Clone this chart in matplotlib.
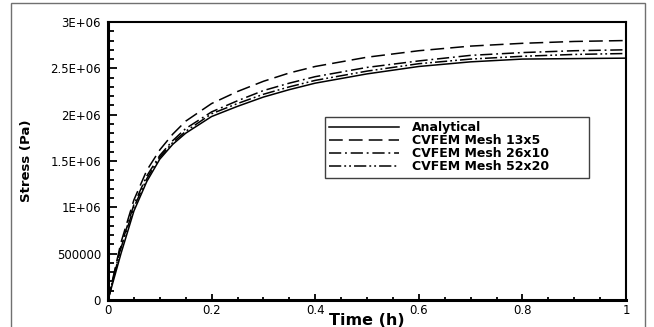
import matplotlib
matplotlib.use('Agg')
import matplotlib.pyplot as plt
from matplotlib.patches import Rectangle
from matplotlib.ticker import MultipleLocator, FuncFormatter

plt.rcParams['font.family'] = ['DejaVu Sans']

# time (h)
t = [0, 0.025, 0.05, 0.075, 0.1, 0.125, 0.15, 0.2, 0.25, 0.3, 0.35, 0.4,
     0.5, 0.6, 0.7, 0.8, 0.9, 1.0]

# stress (Pa)
analytical = [0, 0.50e6, 0.96e6, 1.28e6, 1.52e6, 1.68e6, 1.80e6, 1.98e6, 2.09e6,
              2.19e6, 2.27e6, 2.34e6, 2.44e6, 2.52e6, 2.57e6, 2.60e6, 2.605e6, 2.61e6]
mesh_13x5 = [0, 0.62e6, 1.08e6, 1.40e6, 1.62e6, 1.79e6, 1.93e6, 2.12e6, 2.25e6,
             2.36e6, 2.45e6, 2.52e6, 2.62e6, 2.69e6, 2.74e6, 2.77e6, 2.79e6, 2.80e6]
mesh_26x10 = [0, 0.58e6, 1.03e6, 1.34e6, 1.56e6, 1.72e6, 1.85e6, 2.03e6, 2.15e6,
              2.26e6, 2.34e6, 2.41e6, 2.51e6, 2.58e6, 2.64e6, 2.67e6, 2.69e6, 2.70e6]
mesh_52x20 = [0, 0.56e6, 1.00e6, 1.31e6, 1.54e6, 1.70e6, 1.82e6, 2.01e6, 2.12e6,
              2.22e6, 2.30e6, 2.37e6, 2.47e6, 2.55e6, 2.60e6, 2.63e6, 2.65e6, 2.66e6]

labels = ['Analytical', 'CVFEM Mesh 13x5', 'CVFEM Mesh 26x10', 'CVFEM Mesh 52x20']

fig = plt.figure(figsize=(6.54, 3.27), dpi=100)
ax = fig.add_axes([108/654, 1 - 300/327, 518/654, 278/327])

# grey outer frame
fig.patches.append(Rectangle((11/654, -0.05), 634/654, 1.05 - 3/327,
                             transform=fig.transFigure, fill=False,
                             edgecolor='#707070', lw=1.0))

lw = 1.1
ax.plot(t, analytical, color='black', lw=lw, ls='-', label=labels[0])
ax.plot(t, mesh_13x5, color='black', lw=lw, ls=(0, (9, 4)), label=labels[1])
ax.plot(t, mesh_26x10, color='black', lw=lw, ls=(0, (8, 2.5, 1.2, 2.5)), label=labels[2])
ax.plot(t, mesh_52x20, color='black', lw=lw, ls=(0, (8, 2, 1.2, 2, 1.2, 2)), label=labels[3])

ax.set_xlim(0, 1)
ax.set_ylim(0, 3e6)
ax.xaxis.set_major_locator(MultipleLocator(0.2))
ax.xaxis.set_minor_locator(MultipleLocator(0.05))
ax.yaxis.set_major_locator(MultipleLocator(5e5))
ax.yaxis.set_minor_locator(MultipleLocator(1e5))


def xfmt(v, pos):
    return '0' if abs(v) < 1e-9 else ('1' if abs(v - 1) < 1e-9 else f'{v:.1f}')


def yfmt(v, pos):
    if v == 0:
        return '0'
    if v < 1e6:
        return f'{v:.0f}'
    return f'{v / 1e6:g}E+06'


ax.xaxis.set_major_formatter(FuncFormatter(xfmt))
ax.yaxis.set_major_formatter(FuncFormatter(yfmt))

ax.tick_params(which='both', direction='in', top=False, right=False, width=1.3,
               labelsize=8.5)
ax.tick_params(axis='x', which='major', length=4.5, pad=3)
ax.tick_params(axis='x', which='minor', length=2.5)
ax.tick_params(axis='y', which='major', length=6.5, pad=5)
ax.tick_params(axis='y', which='minor', length=4)

for side in ['bottom', 'left']:
    ax.spines[side].set_linewidth(2.2)
for side in ['top', 'right']:
    ax.spines[side].set_linewidth(1.5)

ax.set_xlabel('Time (h)', fontsize=11.5, fontweight='bold', va='top')
ax.xaxis.set_label_coords(0.5, -0.045)
ax.set_ylabel('Stress (Pa)', fontsize=9.5, fontweight='bold', va='center')
ax.yaxis.set_label_coords(-0.158, 0.5)

leg = ax.legend(loc='upper left', bbox_to_anchor=(0.419, 0.558, 0.51, 0.1),
                mode='expand', prop={'weight': 'bold', 'size': 9},
                handlelength=5.6, labelspacing=0.0, borderpad=0.35,
                handletextpad=1.0, fancybox=False, framealpha=1,
                edgecolor='#404040', borderaxespad=0)
leg.get_frame().set_linewidth(1.0)

fig.savefig('out.png', dpi=100)
